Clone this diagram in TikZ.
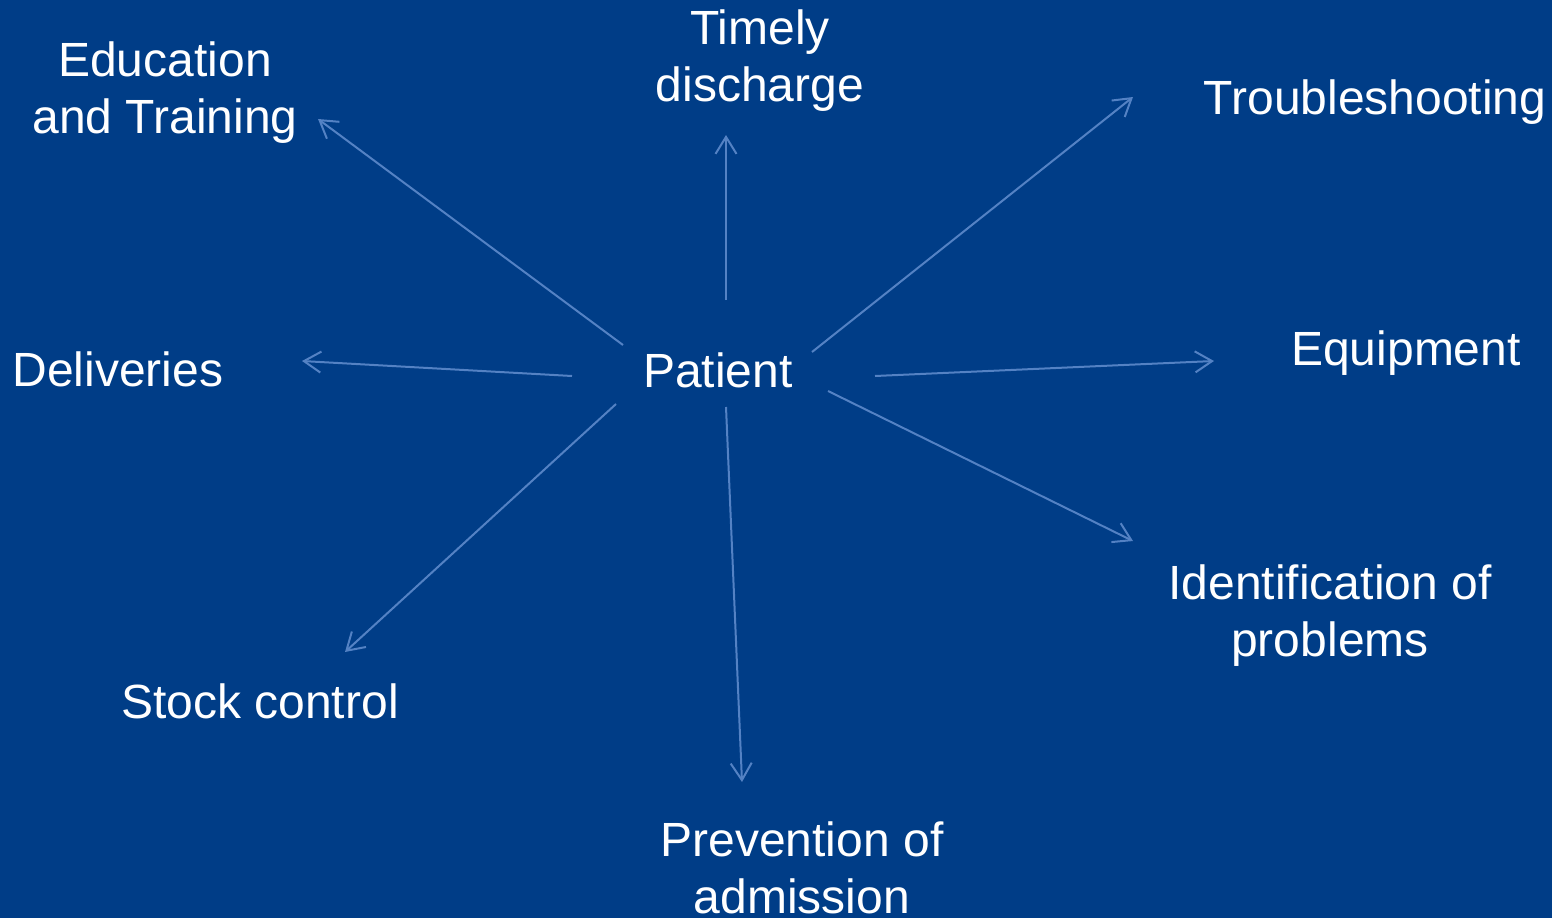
\documentclass[tikz,border=0pt]{standalone}
\usepackage{fontspec}
\setmainfont{Liberation Sans}
\usetikzlibrary{arrows.meta}
\definecolor{bgblue}{RGB}{0,61,135}
\definecolor{rayblue}{RGB}{84,130,196}
\tikzset{
  label/.style={text=white, inner sep=0pt, anchor=base, align=center,
    font=\fontsize{48}{57}\selectfont},
  ray/.style={draw=rayblue, line width=2pt,
    -{Straight Barb[length=17pt,width=21pt,line width=2pt]}}
}
\begin{document}
\begin{tikzpicture}[x=1pt,y=-1pt]
  \fill[bgblue] (0,0) rectangle (1552,918);
  \useasboundingbox (0,0) rectangle (1552,918);
  \clip (0,0) rectangle (1552,918);

  % labels (base anchor sits on the last line's baseline)
  \node[label] (patient) at (718,387) {Patient};
  \node[label] (edu) at (165,133) {Education\\and Training};
  \node[label] (timely) at (760,101) {Timely\\discharge};
  \node[label] (trouble) at (1375,114) {Troubleshooting};
  \node[label] (equip) at (1406,365) {Equipment};
  \node[label] (deliv) at (118,386) {Deliveries};
  \node[label] (ident) at (1330,656) {Identification of\\problems};
  \node[label] (stock) at (260,718) {Stock control};
  \node[label] (prev) at (802,913) {Prevention of\\admission};

  % ray ends
  \coordinate (s1) at (623,345); \coordinate (t1) at (318,119);
  \coordinate (s2) at (726,300); \coordinate (t2) at (726,135);
  \coordinate (s3) at (812,352); \coordinate (t3) at (1133,97);
  \coordinate (s4) at (572,376); \coordinate (t4) at (302,361);
  \coordinate (s5) at (875,376); \coordinate (t5) at (1214,361);
  \coordinate (s6) at (828,391); \coordinate (t6) at (1133,541);
  \coordinate (s7) at (726,407); \coordinate (t7) at (742,782);
  \coordinate (s8) at (616,404); \coordinate (t8) at (345,652);

  % rays from the centre towards each label
  \foreach \i in {1,...,8} {
    \draw[ray] (s\i) -- (t\i);
  }
\end{tikzpicture}
\end{document}
